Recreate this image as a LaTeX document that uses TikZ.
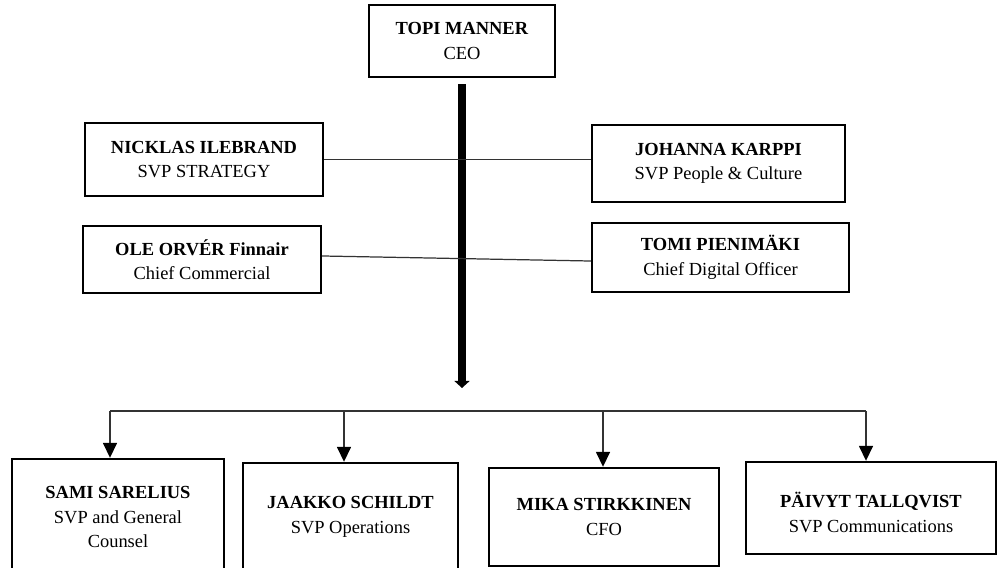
\documentclass[tikz,border=0pt]{standalone}
\usepackage{fontspec}
\setmainfont{Liberation Serif}
\usetikzlibrary{arrows.meta}

\begin{document}
\begin{tikzpicture}[x=0.02cm, y=-0.02cm,
  box/.style={draw, line width=1.4pt, align=center, inner sep=2pt,
    font=\fontsize{10.5}{14}\selectfont},
  link/.style={draw=black!80, line width=0.7pt},
  drop/.style={link, -{Triangle[width=8pt,length=8.5pt,color=black]}},
  spine/.style={line width=4pt, shorten <=3.5pt, -{Triangle[width=8.5pt,length=4pt]}}]
\useasboundingbox (0,0) rectangle (998,568);
% top of the chart
\node [box, minimum width=3.72cm, minimum height=1.44cm] (ceo) at (462,41) {\textbf{TOPI MANNER}\\CEO};
\node [box, minimum width=4.76cm, minimum height=1.46cm] (nicklas) at (204,159.5) {\textbf{NICKLAS ILEBRAND}\\SVP STRATEGY};
\node [box, minimum width=5.06cm, minimum height=1.54cm] (johanna) at (718.5,163.5) {\textbf{JOHANNA KARPPI}\\SVP People \& Culture};
\node [box, minimum width=4.76cm, minimum height=1.34cm] (ole) at (202,259.5) {\textbf{OLE ORVÉR Finnair}\\Chief Commercial};
\node [box, minimum width=5.14cm, minimum height=1.38cm] (tomi) at (720.5,257.5) {\textbf{TOMI PIENIMÄKI}\\Chief Digital Officer};
% bottom row
\node [box, minimum width=4.24cm, minimum height=2.32cm] (sami) at (118,517) {\textbf{SAMI SARELIUS}\\SVP and General\\Counsel};
\node [box, minimum width=4.30cm, minimum height=2.16cm] (jaakko) at (350.5,517) {\textbf{JAAKKO SCHILDT}\\SVP Operations};
\node [box, minimum width=4.60cm, minimum height=1.96cm] (mika) at (604,517) {\textbf{MIKA STIRKKINEN}\\CFO};
\node [box, minimum width=5.00cm, minimum height=1.84cm, text height=28pt] (paivyt) at (871,508) {\textbf{PÄIVYT TALLQVIST}\\SVP Communications};
% connectors
\coordinate (hub) at (462,388);
\coordinate (b1) at (110,411);
\coordinate (b2) at (344,411);
\coordinate (b3) at (603,411);
\coordinate (b4) at (866,411);
\draw [spine] (ceo) -- (hub);
\draw [link] (nicklas.east) -- (nicklas.east -| johanna.west);
\draw [link] ([yshift=2pt]ole.east) -- ([yshift=-2pt]tomi.west);
\draw [link] (b1) -- (b4);
\draw [drop] (b1) -- (b1 |- sami.north);
\draw [drop] (b2) -- (b2 |- jaakko.north);
\draw [drop] (b3) -- (b3 |- mika.north);
\draw [drop] (b4) -- (b4 |- paivyt.north);
\end{tikzpicture}
\end{document}
